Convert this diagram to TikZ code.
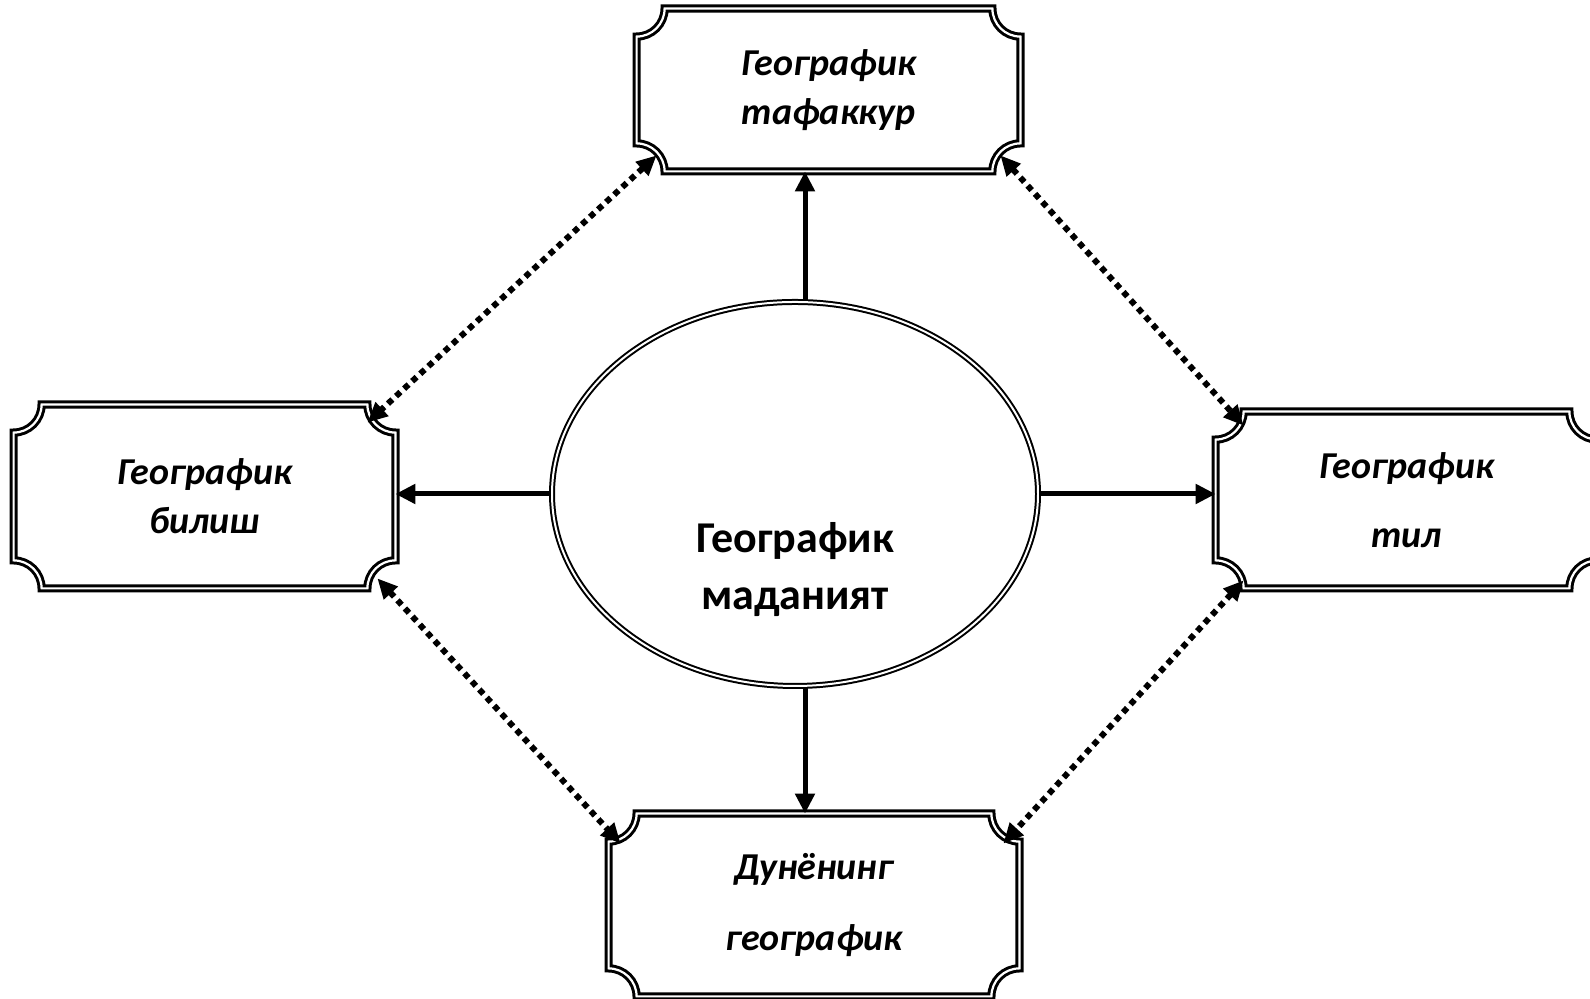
\documentclass[tikz,border=0pt]{standalone}
\usepackage{fontspec}
\setmainfont{Carlito}
\usetikzlibrary{arrows.meta,shapes.geometric}

\newcommand\frm[1]{%
  \draw[double, double distance=1.1pt, line width=1.5pt]
    ([xshift=14pt]#1.north west) -- ([xshift=-14pt]#1.north east)
    arc[start angle=180, end angle=270, radius=14pt]
    -- ([yshift=14pt]#1.south east)
    arc[start angle=90, end angle=180, radius=14pt]
    -- ([xshift=14pt]#1.south west)
    arc[start angle=0, end angle=90, radius=14pt]
    -- ([yshift=-14pt]#1.north west)
    arc[start angle=270, end angle=360, radius=14pt] -- cycle;}

\begin{document}
\begin{tikzpicture}[x=0.5pt, y=0.5pt,
    box/.style={shape=rectangle, align=center,
      font=\fontsize{19}{24.5}\selectfont\bfseries\itshape},
    sol/.style={line width=2.5pt, -{Triangle[length=10pt,width=9.5pt]}},
    dot/.style={line width=3pt, dash pattern=on 3pt off 2.5pt,
      {Triangle[length=10pt,width=9pt]}-{Triangle[length=10pt,width=9pt]}}]
        \useasboundingbox (0,0) rectangle (1590,999);
        \clip (0,0) rectangle (1590,999);

        \node[box, minimum width=191.5pt, minimum height=81pt] (top) at (828.5,909) {Географик\\тафаккур};
        \node[box, minimum width=190.5pt, minimum height=91.5pt] (lft) at (204.5,502.5) {Географик\\билиш};
        \node[box, minimum width=190.5pt, minimum height=88pt] (rgt) at (1406.5,499) {Географик\\[10pt]тил};
        \node[box, minimum width=205pt, minimum height=91pt] (bot) at (814,94) {Дунёнинг\\[11pt]географик};
        \node[shape=ellipse, draw=black, double, double distance=1pt, line width=1pt,
              inner sep=0pt, minimum width=243pt, minimum height=192pt,
              label={[name=ellt, yshift=-38pt, align=center,
                      font=\fontsize{22}{28.5}\selectfont\bfseries]center:Географик\\маданият}]
              (ell) at (795,505) {};

        \frm{top}
        \frm{lft}
        \frm{rgt}
        \frm{bot}

        \path [sol] ([xshift=5pt]ell.north) edge ([xshift=5pt]ell.north |- top.south);
        \path [sol] ([xshift=5pt]ell.south) edge ([xshift=5pt]ell.south |- bot.north);
        \path [sol] (ell.west) edge (ell.west -| lft.east);
        \path [sol] (ell.east) edge (ell.east -| rgt.west);

        \path [dot] ([shift={(10pt,8pt)}]top.south west) edge ([shift={(-14pt,-9pt)}]lft.north east);
        \path [dot] ([shift={(-10pt,8pt)}]top.south east) edge ([shift={(14pt,-7pt)}]rgt.north west);
        \path [dot] ([shift={(-9pt,5pt)}]lft.south east) edge ([shift={(6pt,-15pt)}]bot.north west);
        \path [dot] ([shift={(14pt,4pt)}]rgt.south west) edge ([shift={(-8pt,-15pt)}]bot.north east);
    \end{tikzpicture}
\end{document}
